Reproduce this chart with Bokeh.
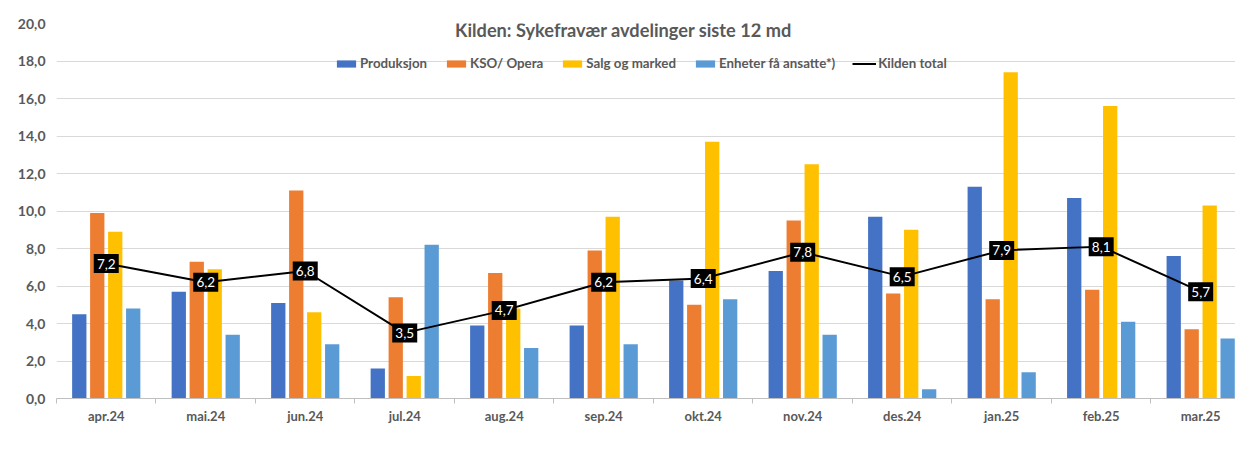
from bokeh.plotting import figure
from bokeh.models import (ColumnDataSource, Range1d, FixedTicker, Label, Legend,
                          LegendItem)
from bokeh.transform import dodge
from bokeh.core.properties import value
from bokeh.embed import file_html
from bokeh.resources import INLINE

months = ["apr.24", "mai.24", "jun.24", "jul.24", "aug.24", "sep.24",
          "okt.24", "nov.24", "des.24", "jan.25", "feb.25", "mar.25"]
produksjon = [4.5, 5.7, 5.1, 1.6, 3.9, 3.9, 6.3, 6.8, 9.7, 11.3, 10.7, 7.6]
kso_opera = [9.9, 7.3, 11.1, 5.4, 6.7, 7.9, 5.0, 9.5, 5.6, 5.3, 5.8, 3.7]
salg_marked = [8.9, 6.9, 4.6, 1.2, 4.8, 9.7, 13.7, 12.5, 9.0, 17.4, 15.6, 10.3]
enheter = [4.8, 3.4, 2.9, 8.2, 2.7, 2.9, 5.3, 3.4, 0.5, 1.4, 4.1, 3.2]
kilden_total = [7.2, 6.2, 6.8, 3.5, 4.7, 6.2, 6.4, 7.8, 6.5, 7.9, 8.1, 5.7]
y_ticks = [0, 2, 4, 6, 8, 10, 12, 14, 16, 18, 20]

series_names = ["Produksjon", "KSO/ Opera", "Salg og marked", "Enheter få ansatte*)"]
series_keys = ["produksjon", "kso", "salg", "enheter"]
colors = ["#4472C4", "#ED7D31", "#FFC000", "#5B9BD5"]
offsets = [-0.271, -0.0904, 0.0904, 0.271]

FONT = "Lato"
GRAY = "#595959"

idx = list(range(len(months)))
source = ColumnDataSource(dict(
    x=idx, produksjon=produksjon, kso=kso_opera, salg=salg_marked,
    enheter=enheter, total=kilden_total,
    lbl=[f"{v:.1f}".replace(".", ",") for v in kilden_total],
))

p = figure(width=1235, height=438, output_backend="svg", toolbar_location=None,
           x_range=Range1d(-0.5, 11.35), y_range=Range1d(0, 20),
           min_border_left=56, min_border_right=0, min_border_top=23,
           min_border_bottom=40)
p.outline_line_color = None
p.background_fill_color = "white"
p.border_fill_color = "white"
p.xgrid.grid_line_color = None
p.ygrid.grid_line_color = "#d9d9d9"
p.ygrid.grid_line_width = 1

items = []
for key, name, col, off in zip(series_keys, series_names, colors, offsets):
    r = p.vbar(x=dodge("x", off), top=key, width=0.1436, source=source,
               fill_color=col, line_color=None)
    items.append(LegendItem(label=name, renderers=[r]))

lr = p.line("x", "total", source=source, line_color="black", line_width=2)
items.append(LegendItem(label="Kilden total", renderers=[lr]))

p.rect("x", "total", width=25, height=19, width_units="screen",
       height_units="screen", source=source, fill_color="black", line_color=None)
p.text("x", "total", text="lbl", source=source, text_color="white",
       text_font=value(FONT), text_font_size="13.5px", text_align="center",
       text_baseline="middle")

# axes
xa = p.xaxis[0]
xa.ticker = FixedTicker(ticks=idx, minor_ticks=[i - 0.5 for i in range(len(months) + 1)])
xa.major_label_overrides = {i: m for i, m in enumerate(months)}
xa.major_tick_out = 0
xa.major_tick_in = 0
xa.minor_tick_out = 5
xa.minor_tick_in = 0
xa.minor_tick_line_color = "#bfbfbf"
xa.axis_line_color = "#bfbfbf"
xa.major_label_standoff = 4
xa.major_label_text_font = FONT
xa.major_label_text_font_size = "13px"
xa.major_label_text_font_style = "bold"
xa.major_label_text_color = GRAY

ya = p.yaxis[0]
ya.ticker = FixedTicker(ticks=y_ticks)
ya.major_label_overrides = {v: f"{v:.1f}".replace(".", ",") for v in y_ticks}
ya.axis_line_color = None
ya.major_tick_line_color = None
ya.minor_tick_line_color = None
ya.major_tick_out = 0
ya.major_label_standoff = 11
ya.major_label_text_font = FONT
ya.major_label_text_font_size = "14px"
ya.major_label_text_font_style = "bold"
ya.major_label_text_color = GRAY

title = Label(x=567, y=369, x_units="screen", y_units="screen",
              text="Kilden: Sykefravær avdelinger siste 12 md",
              text_font=FONT, text_font_size="18.2px", text_font_style="bold",
              text_color=GRAY, text_align="center", text_baseline="middle",
              background_fill_color="white", padding=3)
p.add_layout(title)

legend = Legend(items=items, orientation="horizontal", location=(278, 327),
                glyph_width=24, glyph_height=9, label_height=9, label_standoff=2,
                spacing=17, padding=0, margin=0, border_line_color=None,
                background_fill_alpha=0, label_text_font=FONT,
                label_text_font_size="13.3px", label_text_font_style="bold",
                label_text_color=GRAY)
p.add_layout(legend)

open("out.html", "w").write(file_html(p, INLINE))
